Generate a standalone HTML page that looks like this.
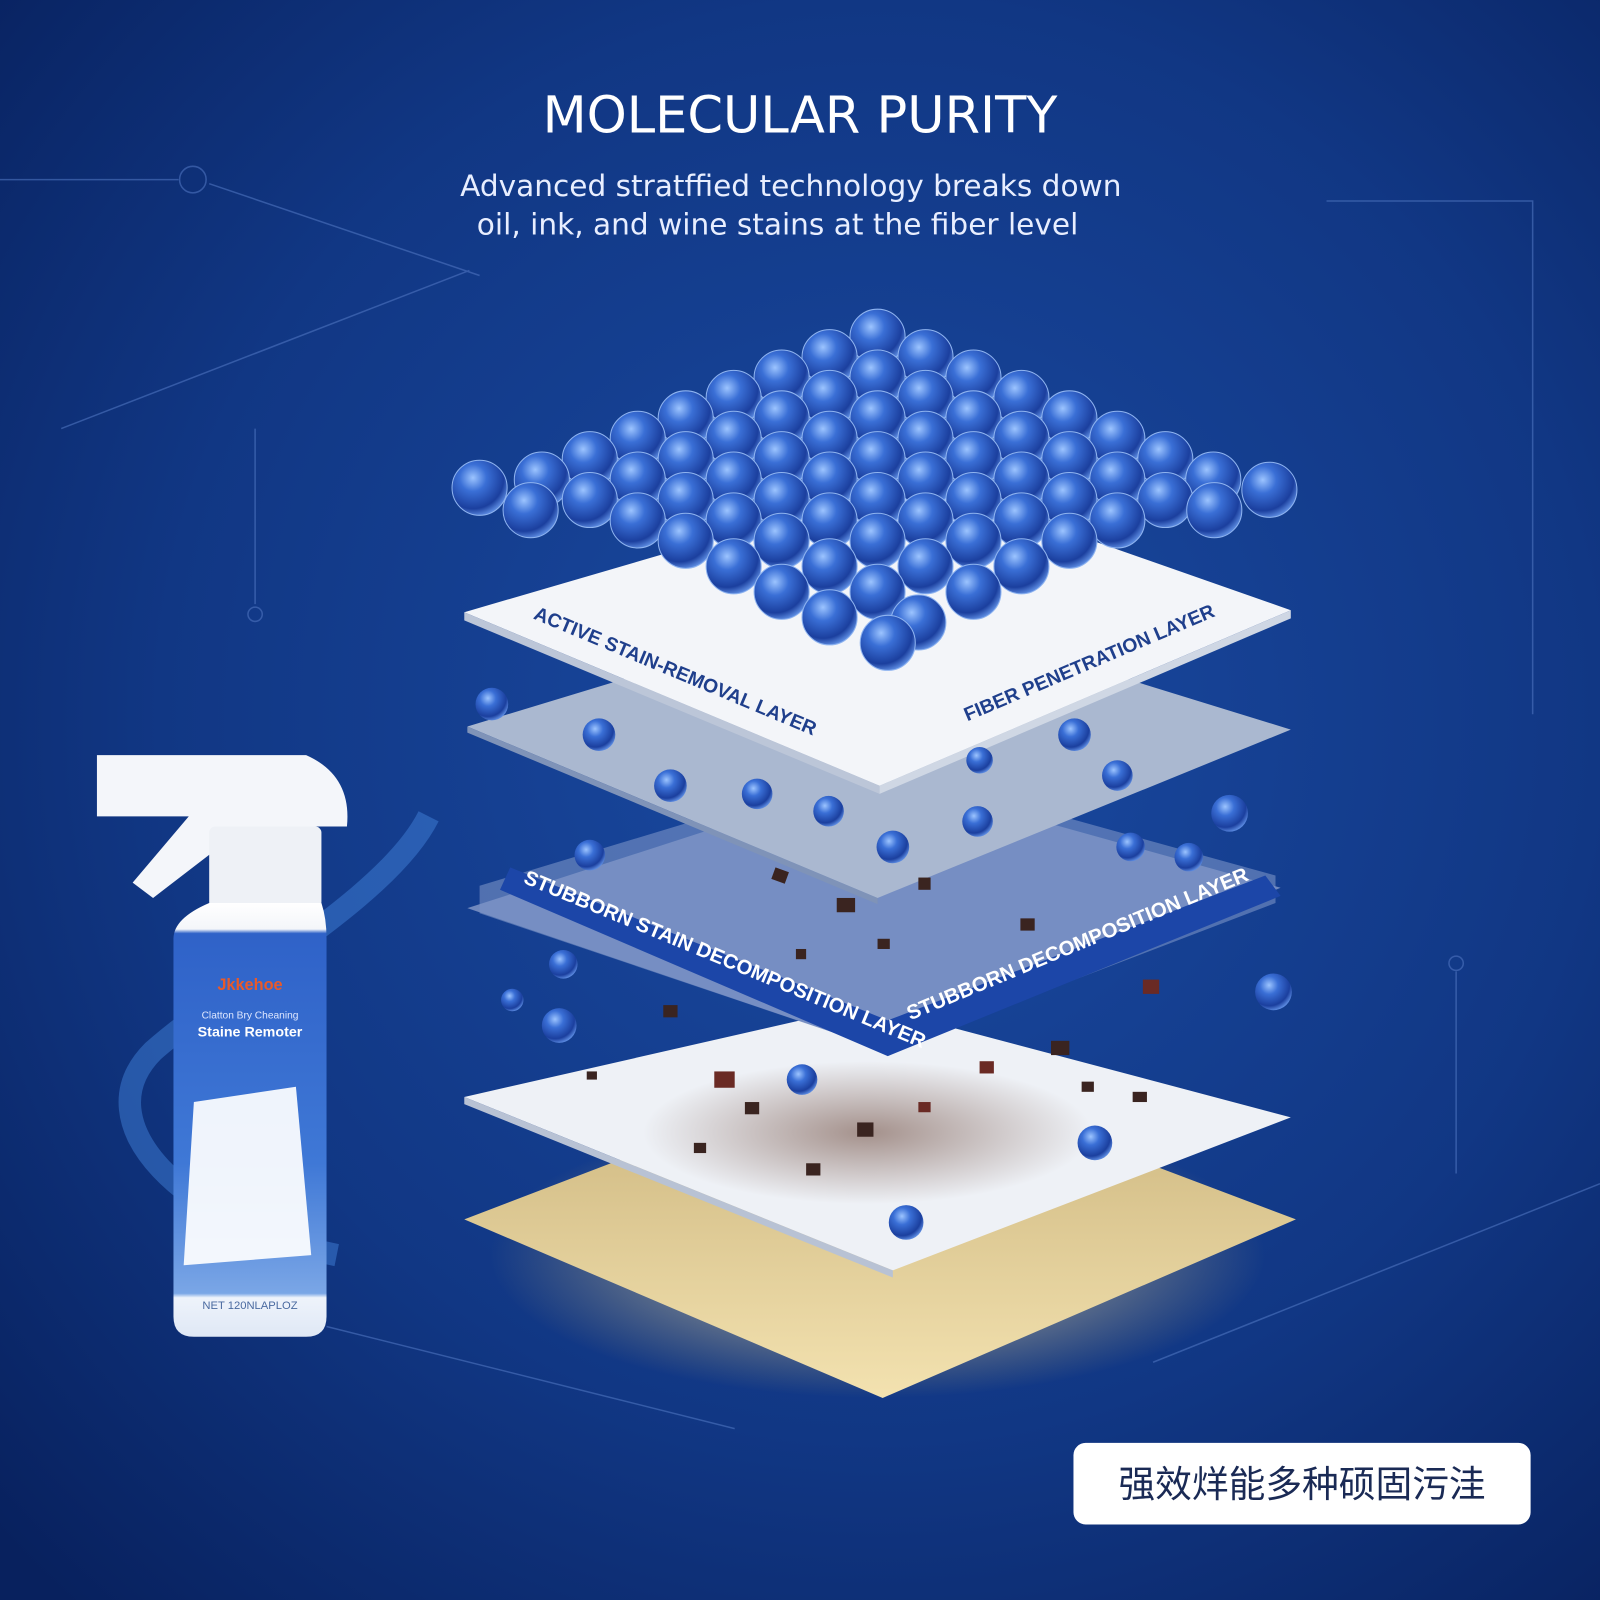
<!DOCTYPE html>
<html><head><meta charset="utf-8"><style>
html,body{margin:0;padding:0;width:1600px;height:1600px;overflow:hidden;background:#0c2a6c}
svg{display:block}
</style></head><body>
<svg width="1600" height="1600" viewBox="0 0 1568 1568" xmlns="http://www.w3.org/2000/svg">
<defs>
<radialGradient id="bg" cx="0.55" cy="0.45" r="0.75">
<stop offset="0" stop-color="#1a4aa2"/><stop offset="0.6" stop-color="#113784"/><stop offset="1" stop-color="#08215e"/></radialGradient>
<radialGradient id="sph" cx="0.38" cy="0.32" r="0.7">
<stop offset="0" stop-color="#9cc4ff"/><stop offset="0.35" stop-color="#3a6fd6"/><stop offset="0.8" stop-color="#1b3f9e"/><stop offset="1" stop-color="#5b8ae0"/></radialGradient>
<radialGradient id="glow" cx="0.5" cy="0.5" r="0.5">
<stop offset="0" stop-color="#fff4cc" stop-opacity="0.9"/><stop offset="1" stop-color="#d8b86a" stop-opacity="0"/></radialGradient>
<radialGradient id="stain" cx="0.5" cy="0.5" r="0.5">
<stop offset="0" stop-color="#5a3020" stop-opacity="0.5"/><stop offset="1" stop-color="#5a3020" stop-opacity="0"/></radialGradient>
<linearGradient id="gold" x1="0" y1="0" x2="0" y2="1"><stop offset="0" stop-color="#c9b27a"/><stop offset="1" stop-color="#f3e2b0"/></linearGradient>
<linearGradient id="bot" x1="0" y1="0" x2="0" y2="1"><stop offset="0" stop-color="#ffffff"/><stop offset="0.06" stop-color="#f4f6fa"/><stop offset="0.07" stop-color="#2f62c8"/><stop offset="0.6" stop-color="#3f78d6"/><stop offset="0.9" stop-color="#7aa6e6"/><stop offset="0.91" stop-color="#eef3fb"/><stop offset="1" stop-color="#dfe8f5"/></linearGradient>
</defs>
<rect width="1568" height="1568" fill="url(#bg)"/>
<g stroke="#4e74c0" stroke-width="1.5" fill="none" opacity="0.6">
<path d="M0 176 H175"/><circle cx="189" cy="176" r="13"/><path d="M205 180 L470 270"/>
<path d="M60 420 L460 265"/><path d="M250 420 V592"/><circle cx="250" cy="602" r="7"/>
<path d="M1300 197 H1502 V700"/><path d="M1427 952 V1150"/><circle cx="1427" cy="944" r="7"/>
<path d="M1130 1335 L1568 1160"/><path d="M320 1300 L720 1400"/>
</g>
<ellipse cx="860" cy="1230" rx="380" ry="140" fill="url(#glow)"/>
<text x="784" y="130" text-anchor="middle" font-family="DejaVu Sans, sans-serif" font-size="50" fill="#fff">MOLECULAR PURITY</text>
<text x="775" y="192" text-anchor="middle" font-family="DejaVu Sans, sans-serif" font-size="29" fill="#e8eeff">Advanced stratffied technology breaks down</text>
<text x="762" y="230" text-anchor="middle" font-family="DejaVu Sans, sans-serif" font-size="29" fill="#e8eeff">oil, ink, and wine stains at the fiber level</text>
<!-- gold layer -->
<polygon points="455,1195 860,1040 1270,1195 865,1370" fill="url(#gold)"/>
<!-- white bottom layer -->
<polygon points="455,1075 850,985 1265,1095 875,1245" fill="#eef1f6"/>
<polygon points="455,1075 875,1245 875,1252 455,1082" fill="#b8c2d4"/>
<ellipse cx="850" cy="1110" rx="220" ry="70" fill="url(#stain)"/>
<!-- blue band layer -->
<polygon points="458,890 860,760 1255,870 870,1030" fill="#7088bd"/>
<polygon points="470,868 860,750 1250,858 1250,885 870,1030 470,895" fill="#7a92c6" opacity="0.6"/>
<polygon points="500,850 870,1000 1240,858 1255,878 870,1035 490,872" fill="#1c46a8"/>
<text transform="translate(512,865) rotate(22.5)" font-family="Liberation Sans, sans-serif" font-weight="bold" font-size="20" fill="#fff">STUBBORN STAIN DECOMPOSITION LAYER</text>
<text transform="translate(892,1000) rotate(-22.5)" font-family="Liberation Sans, sans-serif" font-weight="bold" font-size="20" fill="#fff">STUBBORN DECOMPOSITION LAYER</text>
<!-- textured layer -->
<polygon points="458,712 860,590 1265,715 860,880" fill="#aab8d0"/>
<polygon points="458,712 860,880 860,886 458,718" fill="#7f93b8"/>
<!-- top white layer -->
<polygon points="455,600 900,470 1265,598 862,770" fill="#f3f5f9"/>
<polygon points="455,600 862,770 862,778 455,608" fill="#bcc6d8"/>
<polygon points="862,770 1265,598 1265,606 862,778" fill="#cfd7e4"/>
<text transform="translate(522,606) rotate(22.7)" font-family="Liberation Sans, sans-serif" font-weight="bold" font-size="19" fill="#1f3f8c">ACTIVE STAIN-REMOVAL LAYER</text>
<text transform="translate(948,707) rotate(-23)" font-family="Liberation Sans, sans-serif" font-weight="bold" font-size="19" fill="#1f3f8c">FIBER PENETRATION LAYER</text>
<!-- debris -->
<g fill="#3a2420">
<rect x="760" y="850" width="14" height="12" transform="rotate(20 760 850)"/><rect x="820" y="880" width="18" height="14"/><rect x="900" y="860" width="12" height="12"/><rect x="700" y="1050" width="20" height="16" fill="#6a2a24"/><rect x="840" y="1100" width="16" height="14"/><rect x="960" y="1040" width="14" height="12" fill="#6a2a24"/><rect x="1030" y="1020" width="18" height="14"/><rect x="650" y="985" width="14" height="12"/><rect x="1110" y="1070" width="14" height="10"/><rect x="790" y="1140" width="14" height="12"/><rect x="1000" y="900" width="14" height="12"/><rect x="1120" y="960" width="16" height="14" fill="#6a2a24"/><rect x="575" y="1050" width="10" height="8"/>
<rect x="730" y="1080" width="14" height="12"/><rect x="900" y="1080" width="12" height="10" fill="#6a2a24"/><rect x="680" y="1120" width="12" height="10"/><rect x="1060" y="1060" width="12" height="10"/><rect x="860" y="920" width="12" height="10"/><rect x="780" y="930" width="10" height="10"/>
</g>
<!-- scattered spheres -->
<g fill="url(#sph)">
<circle cx="482" cy="690" r="16"/><circle cx="587" cy="720" r="16"/><circle cx="657" cy="770" r="16"/><circle cx="742" cy="778" r="15"/><circle cx="812" cy="795" r="15"/><circle cx="958" cy="805" r="15"/><circle cx="1053" cy="720" r="16"/><circle cx="1095" cy="760" r="15"/><circle cx="1205" cy="797" r="18"/><circle cx="1165" cy="840" r="14"/><circle cx="1108" cy="830" r="14"/><circle cx="960" cy="745" r="13"/><circle cx="875" cy="830" r="16"/><circle cx="578" cy="838" r="15"/><circle cx="552" cy="945" r="14"/><circle cx="502" cy="980" r="11"/><circle cx="548" cy="1005" r="17"/><circle cx="1248" cy="972" r="18"/><circle cx="1073" cy="1120" r="17"/><circle cx="888" cy="1198" r="17"/><circle cx="786" cy="1058" r="15"/>
</g>
<g fill="url(#sph)" stroke="#8fb4f0" stroke-width="1">
<circle cx="860" cy="330" r="27"/>
<circle cx="813" cy="350" r="27"/><circle cx="907" cy="350" r="27"/>
<circle cx="766" cy="370" r="27"/><circle cx="860" cy="370" r="27"/><circle cx="954" cy="370" r="27"/>
<circle cx="719" cy="390" r="27"/><circle cx="813" cy="390" r="27"/><circle cx="907" cy="390" r="27"/><circle cx="1001" cy="390" r="27"/>
<circle cx="672" cy="410" r="27"/><circle cx="766" cy="410" r="27"/><circle cx="860" cy="410" r="27"/><circle cx="954" cy="410" r="27"/><circle cx="1048" cy="410" r="27"/>
<circle cx="625" cy="430" r="27"/><circle cx="719" cy="430" r="27"/><circle cx="813" cy="430" r="27"/><circle cx="907" cy="430" r="27"/><circle cx="1001" cy="430" r="27"/><circle cx="1095" cy="430" r="27"/>
<circle cx="578" cy="450" r="27"/><circle cx="672" cy="450" r="27"/><circle cx="766" cy="450" r="27"/><circle cx="860" cy="450" r="27"/><circle cx="954" cy="450" r="27"/><circle cx="1048" cy="450" r="27"/><circle cx="1142" cy="450" r="27"/>
<circle cx="531" cy="470" r="27"/><circle cx="625" cy="470" r="27"/><circle cx="719" cy="470" r="27"/><circle cx="813" cy="470" r="27"/><circle cx="907" cy="470" r="27"/><circle cx="1001" cy="470" r="27"/><circle cx="1095" cy="470" r="27"/><circle cx="1189" cy="470" r="27"/>
<circle cx="470" cy="478" r="27"/><circle cx="578" cy="490" r="27"/><circle cx="672" cy="490" r="27"/><circle cx="766" cy="490" r="27"/><circle cx="860" cy="490" r="27"/><circle cx="954" cy="490" r="27"/><circle cx="1048" cy="490" r="27"/><circle cx="1142" cy="490" r="27"/><circle cx="1244" cy="480" r="27"/>
<circle cx="520" cy="500" r="27"/><circle cx="625" cy="510" r="27"/><circle cx="719" cy="510" r="27"/><circle cx="813" cy="510" r="27"/><circle cx="907" cy="510" r="27"/><circle cx="1001" cy="510" r="27"/><circle cx="1095" cy="510" r="27"/><circle cx="1190" cy="500" r="27"/>
<circle cx="672" cy="530" r="27"/><circle cx="766" cy="530" r="27"/><circle cx="860" cy="530" r="27"/><circle cx="954" cy="530" r="27"/><circle cx="1048" cy="530" r="27"/>
<circle cx="719" cy="555" r="27"/><circle cx="813" cy="555" r="27"/><circle cx="907" cy="555" r="27"/><circle cx="1001" cy="555" r="27"/>
<circle cx="766" cy="580" r="27"/><circle cx="860" cy="580" r="27"/><circle cx="954" cy="580" r="27"/>
<circle cx="813" cy="605" r="27"/><circle cx="900" cy="610" r="27"/>
<circle cx="870" cy="630" r="27"/>
</g>
<!-- splash -->
<path d="M330 1230 C180 1200 80 1100 150 1030 C230 960 380 880 420 800" stroke="#3f7fd8" stroke-width="22" fill="none" opacity="0.5"/>
<!-- bottle -->
<path d="M95 740 H300 Q345 760 340 810 H260 L215 830 L150 880 L130 865 L185 800 H95 Z" fill="#f4f6fa"/>
<rect x="205" y="810" width="110" height="80" rx="6" fill="#eef1f6"/>
<path d="M205 885 H315 Q320 900 320 920 V1290 Q320 1310 300 1310 H190 Q170 1310 170 1290 V920 Q170 900 205 885 Z" fill="url(#bot)"/>
<text x="245" y="970" text-anchor="middle" font-family="Liberation Sans, sans-serif" font-size="16" font-weight="bold" fill="#e85a2a">Jkkehoe</text>
<text x="245" y="998" text-anchor="middle" font-family="Liberation Sans, sans-serif" font-size="10" fill="#dfe8ff">Clatton Bry Cheaning</text>
<text x="245" y="1016" text-anchor="middle" font-family="Liberation Sans, sans-serif" font-size="14" font-weight="bold" fill="#fff">Staine Remoter</text>
<path d="M190 1080 L290 1065 L305 1230 L180 1240 Z" fill="#ffffff" opacity="0.92"/>
<text x="245" y="1283" text-anchor="middle" font-family="Liberation Sans, sans-serif" font-size="11" fill="#4a6aa0">NET 120NLAPLOZ</text>
<!-- badge -->
<rect x="1052" y="1414" width="448" height="80" rx="12" fill="#fff"/>
<text x="1276" y="1467" text-anchor="middle" font-family="Liberation Sans, Noto Sans CJK SC, sans-serif" font-size="36" fill="#1a2a55">强效烊能多种硕固污洼</text>
</svg>
</body></html>
